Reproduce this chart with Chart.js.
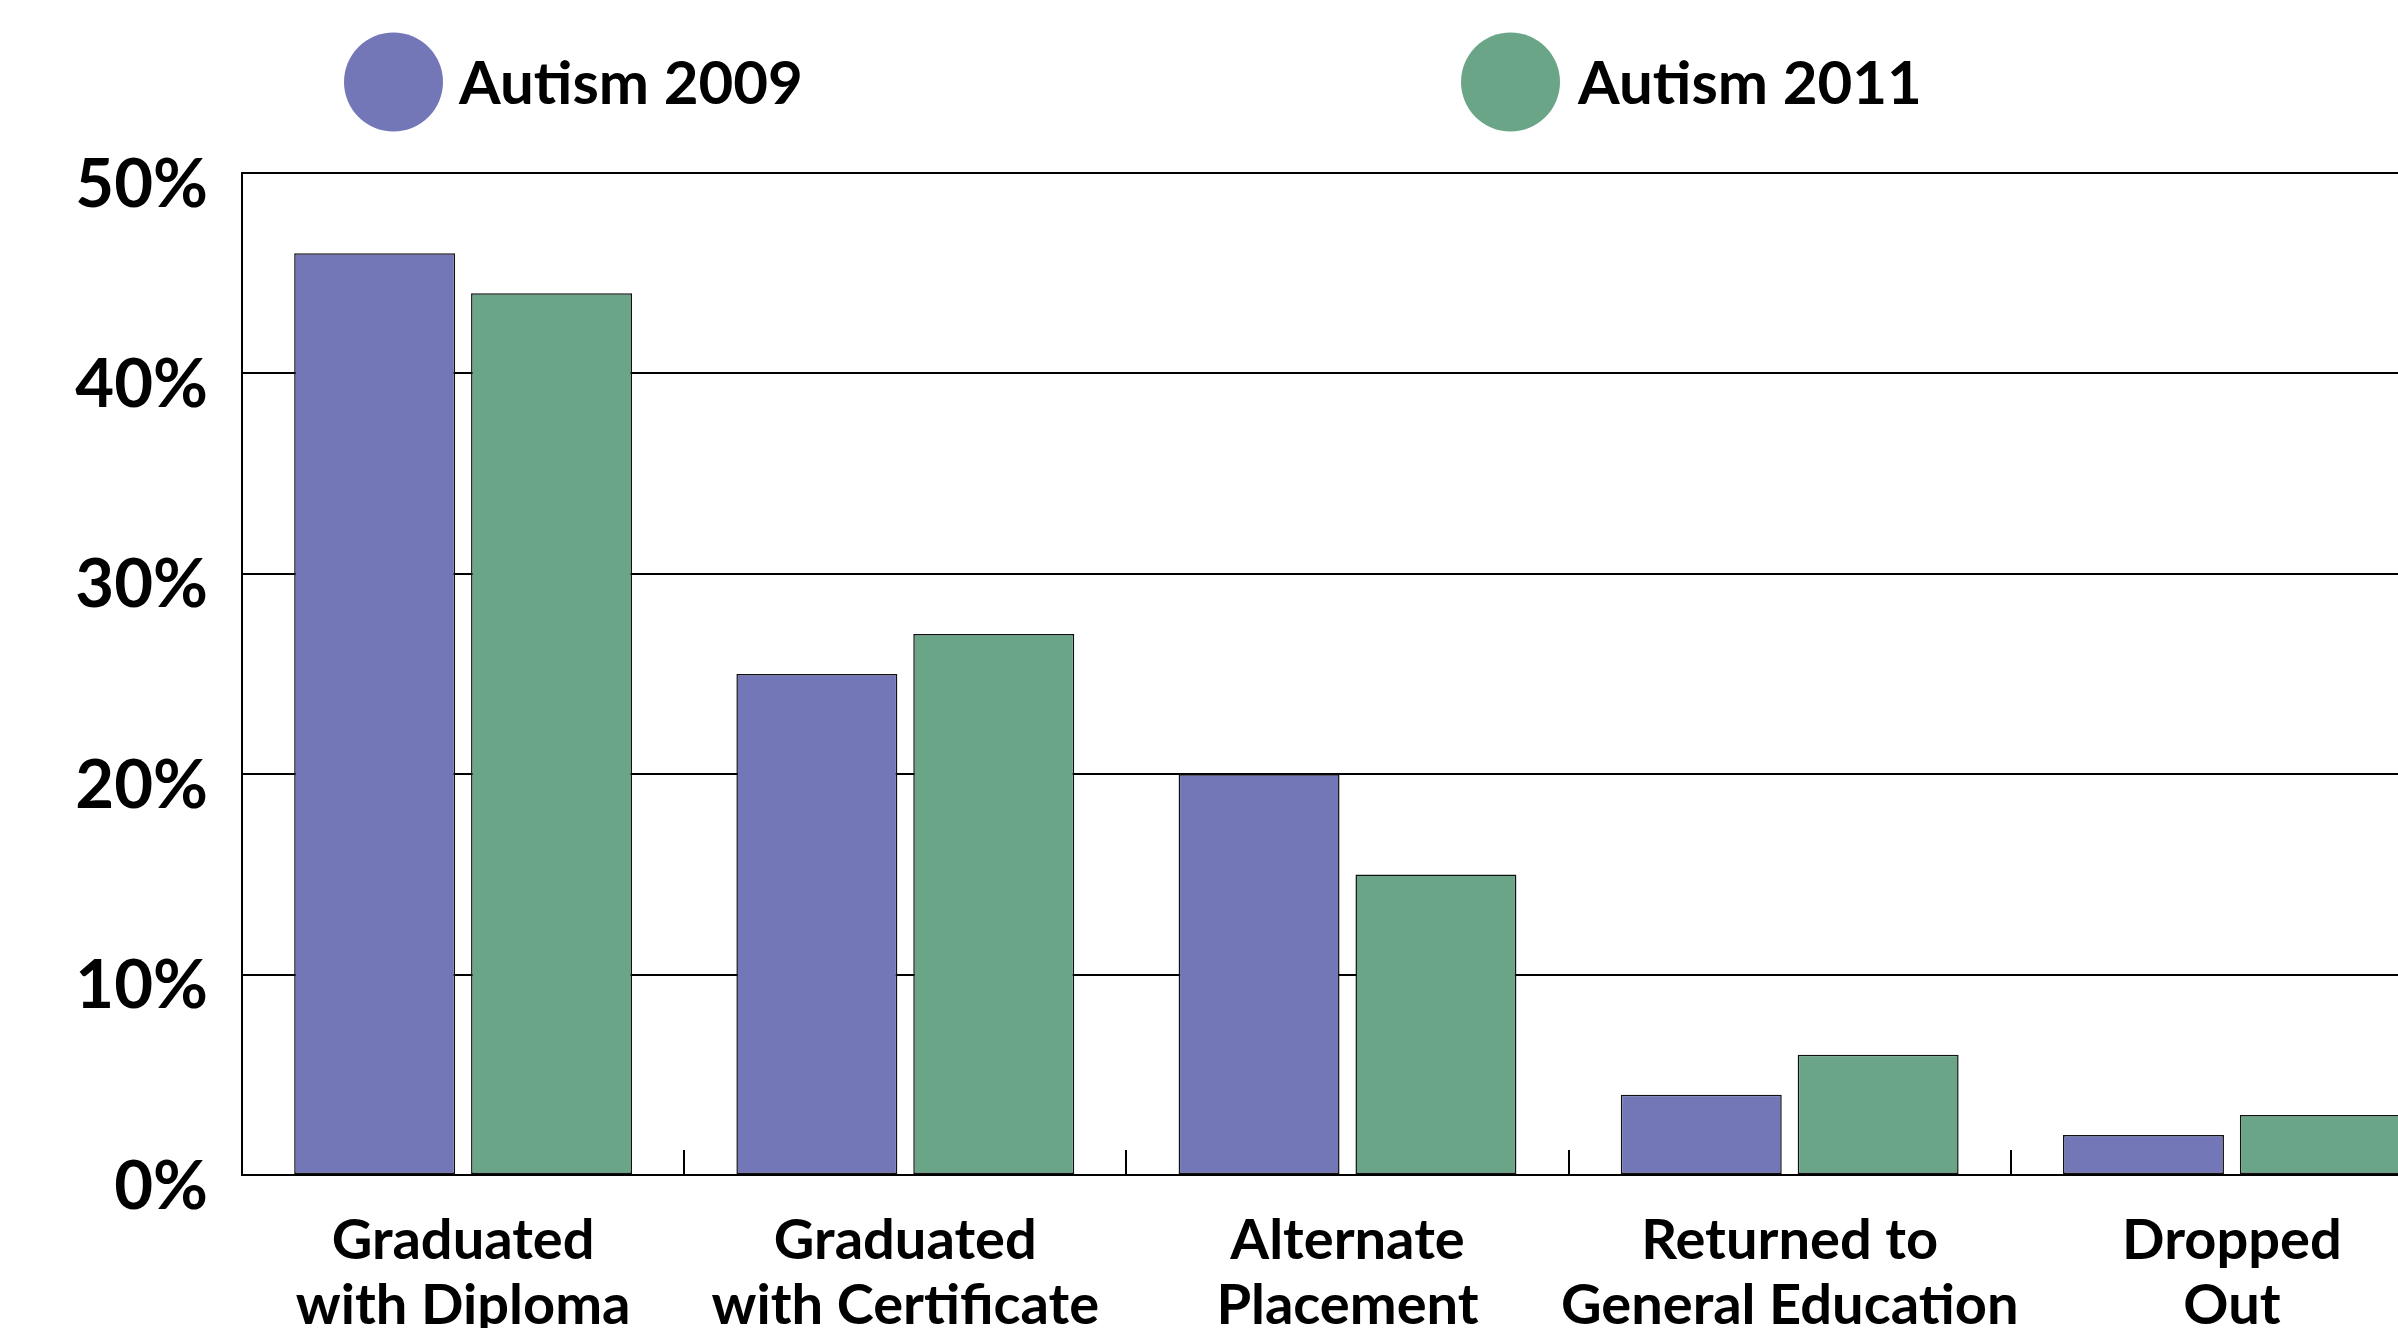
<!DOCTYPE html>
<html><head><meta charset="utf-8">
<script src="https://cdn.jsdelivr.net/npm/chart.js@4.4.1/dist/chart.umd.min.js"></script>
<style>
html,body{margin:0;padding:0;overflow:hidden;background:#fff;width:2398px;height:1328px;}
#wrap{position:absolute;left:0;top:0;width:2460px;height:1400px;}
</style></head><body>
<div id="wrap"><canvas id="c"></canvas></div>
<script>
const categories = [["Graduated","with Diploma"],["Graduated","with Certificate"],["Alternate","Placement"],["Returned to","General Education"],["Dropped","Out"]];
const seriesNames = ["Autism 2009","Autism 2011"];
const autism2009 = [46,25,20,4,2];
const autism2011 = [44,27,15,6,3];
const yTicks = [0,10,20,30,40,50];
const seriesColors = ["#7377B8","#6BA588"];

const legendPlugin = {
  id:'customLegend',
  afterDraw(chart){
    const ctx = chart.ctx;
    const items = [{cx:393.5, tx:459},{cx:1510.5, tx:1578}];
    chart.data.datasets.forEach((ds,i)=>{
      const it = items[i];
      ctx.save();
      ctx.fillStyle = ds.backgroundColor;
      ctx.beginPath(); ctx.arc(it.cx, 82, 49.5, 0, Math.PI*2); ctx.fill();
      ctx.fillStyle = '#000';
      ctx.font = '700 60px Lato';
      ctx.textBaseline = 'alphabetic';
      ctx.textAlign = 'left';
      ctx.fillText(ds.label, it.tx, 104);
      ctx.restore();
    });
  }
};

new Chart(document.getElementById('c'), {
  type:'bar',
  data:{
    labels: categories,
    datasets:[
      {label:seriesNames[0], data:autism2009, backgroundColor:seriesColors[0], borderColor:'#111', borderWidth:1.5, borderSkipped:false, categoryPercentage:0.8, barPercentage:0.91},
      {label:seriesNames[1], data:autism2011, backgroundColor:seriesColors[1], borderColor:'#111', borderWidth:1.5, borderSkipped:false, categoryPercentage:0.8, barPercentage:0.91}
    ]
  },
  options:{
    responsive:true, maintainAspectRatio:false, animation:false, devicePixelRatio:1,
    layout:{padding:{top:173, left:0, right:7, bottom:0}},
    plugins:{legend:{display:false}, tooltip:{enabled:false}},
    scales:{
      x:{
        grid:{drawOnChartArea:false, color:'#000', lineWidth:2, tickLength:-25, offset:true},
        border:{color:'#000', width:2},
        ticks:{padding:58, color:'#000', font:{family:'Lato', weight:'700', size:56, lineHeight:1.17}, maxRotation:0, autoSkip:false},
        afterFit(s){ s.height = 225; }
      },
      y:{
        min:0, max:50,
        afterBuildTicks(s){ s.ticks = yTicks.map(v=>({value:v})); },
        grid:{color:'#000', lineWidth:2, drawTicks:false},
        border:{color:'#000', width:2},
        ticks:{padding:34, labelOffset:12, color:'#000', font:{family:'Lato', weight:'700', size:67}, callback:v=>v+'%'},
        afterFit(s){ s.width = 242; }
      }
    }
  },
  plugins:[legendPlugin]
});
</script>
</body></html>
